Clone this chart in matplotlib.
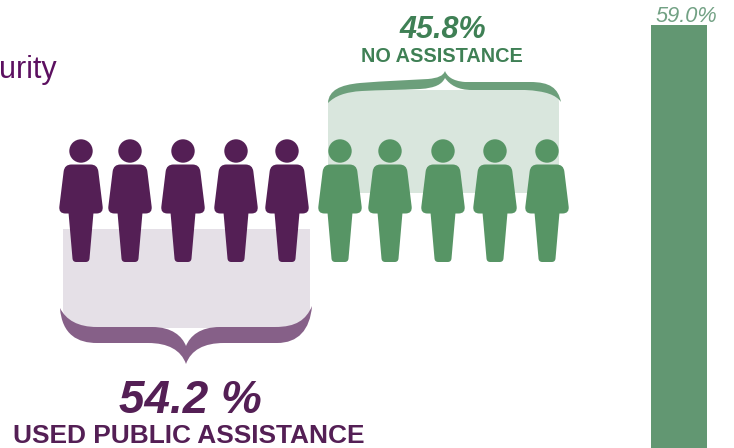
import matplotlib
matplotlib.use('Agg')
import matplotlib.pyplot as plt
from matplotlib.path import Path
from matplotlib.patches import PathPatch, Circle

plt.rcParams['font.family'] = ['Liberation Sans', 'DejaVu Sans']

# values
pct_used = 54.2
pct_none = 45.8
pct_bar = 59.0
label_used = 'USED PUBLIC ASSISTANCE'
label_none = 'NO ASSISTANCE'
side_text = 'urity'

# colours
purple = '#541f55'
purple_side = '#5c1060'
purple_pale = '#e5e0e7'
purple_brace = '#866088'
green = '#579565'
green_text = '#3f8055'
green_pale = '#d9e6dd'
green_brace = '#6c9f7b'
bar_col = '#629772'
bar_text = '#72a184'

# icon head centres, in pixels
heads_purple = [81, 130, 183, 236, 287]
heads_green = [340, 390, 443, 495, 547]
head_y = 151

W, H = 734, 448


def round_poly(pts, r):
    # closed polygon with quadratic rounded corners
    verts, codes = [], []
    n = len(pts)
    for i in range(n):
        px, py = pts[i - 1]
        x, y = pts[i]
        nx, ny = pts[(i + 1) % n]
        d1 = ((px - x) ** 2 + (py - y) ** 2) ** 0.5
        d2 = ((nx - x) ** 2 + (ny - y) ** 2) ** 0.5
        a = (x + (px - x) * r / d1, y + (py - y) * r / d1)
        b = (x + (nx - x) * r / d2, y + (ny - y) * r / d2)
        verts.append(a)
        codes.append(Path.MOVETO if i == 0 else Path.LINETO)
        verts += [(x, y), b]
        codes += [Path.CURVE3, Path.CURVE3]
    verts.append(verts[0])
    codes.append(Path.CLOSEPOLY)
    return verts, codes


def person(ax, cx, cy, col):
    ax.add_patch(Circle((cx, cy), 11.7, fc=col, ec='none', zorder=3))
    torso = [(-16.5, 13.5), (16.5, 13.5), (22.5, 62.5), (-22.5, 62.5)]
    legs = [(-12.8, 58), (12.8, 58), (8.2, 111), (-8.2, 111)]
    v1, c1 = round_poly([(cx + a, cy + b) for a, b in torso], 7)
    v2, c2 = round_poly([(cx + a, cy + b) for a, b in legs], 3.5)
    ax.add_patch(PathPatch(Path(v1, c1), fc=col, ec='none', zorder=3))
    ax.add_patch(PathPatch(Path(v2, c2), fc=col, ec='none', zorder=3))


def curve_patch(ax, start, segs, col):
    verts = [start]
    codes = [Path.MOVETO]
    for s in segs:
        verts += s
        codes += [Path.CURVE4] * 3
    verts.append(start)
    codes.append(Path.CLOSEPOLY)
    ax.add_patch(PathPatch(Path(verts, codes), fc=col, ec='none', zorder=2))


fig = plt.figure(figsize=(W / 100, H / 100), dpi=100)
ax = fig.add_axes([0, 0, 1, 1])
ax.set_xlim(0, W)
ax.set_ylim(H, 0)
ax.axis('off')

# pale panels behind the figures, corners tucked under the braces
L, C3 = Path.LINETO, Path.CURVE3
lower_panel = Path(
    [(63, 229), (310, 229), (310, 308), (310, 328), (285, 328), (88, 328), (63, 328), (63, 308), (63, 229)],
    [Path.MOVETO, L, L, C3, C3, L, C3, C3, Path.CLOSEPOLY])
upper_panel = Path(
    [(345, 90), (542, 90), (559, 90), (559, 103), (559, 193), (328, 193), (328, 103), (328, 90), (345, 90)],
    [Path.MOVETO, L, C3, C3, L, L, L, C3, C3])
ax.add_patch(PathPatch(lower_panel, fc=purple_pale, ec='none', zorder=1))
ax.add_patch(PathPatch(upper_panel, fc=green_pale, ec='none', zorder=1))

for x in heads_purple:
    person(ax, x, head_y, purple)
for x in heads_green:
    person(ax, x, head_y, green)

# lower brace
curve_patch(ax, (60, 308), [
    [(62, 335), (78, 343), (97, 343)],
    [(115, 343), (130, 343), (148, 343)],
    [(168, 343), (181, 350), (186, 364)],
    [(191, 350), (204, 343), (224, 343)],
    [(242, 343), (260, 343), (277, 343)],
    [(298, 343), (310, 330), (312, 306)],
    [(306, 320), (296, 327), (275, 327)],
    [(255, 327), (235, 327), (220, 327)],
    [(200, 327), (190, 336), (186, 346)],
    [(182, 336), (172, 327), (152, 327)],
    [(135, 327), (115, 327), (97, 327)],
    [(78, 327), (66, 320), (60, 308)],
], purple_brace)

# upper brace
curve_patch(ax, (328, 103), [
    [(329, 90), (340, 85), (360, 83)],
    [(385, 81), (410, 80), (428, 79)],
    [(438, 78), (443, 76), (445, 71)],
    [(447, 76), (452, 81), (465, 82)],
    [(490, 82), (510, 82), (530, 82)],
    [(550, 82), (558, 88), (561, 102)],
    [(556, 95), (546, 91), (525, 90)],
    [(505, 90), (490, 90), (472, 90)],
    [(458, 90), (450, 85), (445, 78)],
    [(442, 84), (436, 88), (420, 89)],
    [(400, 90), (380, 90), (362, 91)],
    [(345, 92), (335, 96), (328, 103)],
], green_brace)

# text
ax.text(443, 38, '%.1f%%' % pct_none, color=green_text, fontsize=22, fontweight='bold',
        fontstyle='italic', ha='center', va='baseline')
ax.text(442, 62, label_none, color=green_text, fontsize=14.3, fontweight='bold',
        ha='center', va='baseline')
ax.text(190, 413, '%.1f %%' % pct_used, color=purple, fontsize=33, fontweight='bold',
        fontstyle='italic', ha='center', va='baseline')
ax.text(188.5, 443, label_used, color=purple, fontsize=18.9, fontweight='bold',
        ha='center', va='baseline')
ax.text(57, 78, side_text, color=purple_side, fontsize=22, ha='right', va='baseline')

# single bar, cut off at the bottom edge
ax2 = fig.add_axes([0, 0, 1, 1])
ax2.patch.set_alpha(0)
ax2.set_xlim(0, W)
ax2.set_ylim(0, pct_bar * H / 423)
ax2.axis('off')
ax2.bar([679], [pct_bar], width=56, color=bar_col)
ax2.annotate('%.1f%%' % pct_bar, (686, pct_bar), xytext=(0, 2.2), textcoords='offset points',
             color=bar_text, fontsize=15.7, fontstyle='italic', ha='center', va='baseline')

fig.savefig('out.png', dpi=100)
